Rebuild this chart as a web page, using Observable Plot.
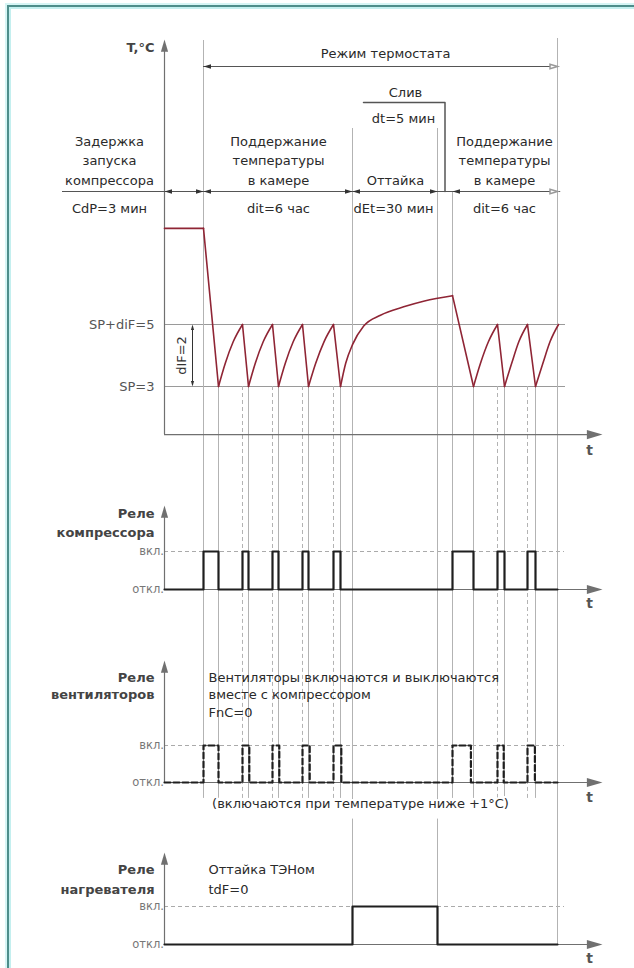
<!DOCTYPE html>
<html><head><meta charset="utf-8">
<script src="https://cdn.jsdelivr.net/npm/d3@7"></script>
<script src="https://cdn.jsdelivr.net/npm/@observablehq/plot@0.6"></script>
<style>
html,body{margin:0;padding:0;background:#fff;overflow:hidden}
#wrap{position:relative;width:634px;height:968px;overflow:hidden;background:#fff}
.panel{position:absolute;left:0}
#frame{position:absolute;left:7px;top:5px;width:700px;height:1000px;border-left:2px solid #4e8d8a;border-top:2px solid #4e8d8a;box-shadow:inset 2px 2px 0 #c4efef,-2px -2px 0 #d6f5f5;pointer-events:none;z-index:10}
</style></head>
<body><div id="wrap"><div id="frame"></div></div>
<script>
// ---------- data (schematic time units, origin at the axis) ----------
const tCdPEnd = 9.75;        // CdP = 3 мин
const tDefrostStart = 47;    // dit = 6 час
const tDefrostEnd = 68.25;   // dEt = 30 мин
const tDrainEnd = 72;        // dt = 5 мин
const tModeEnd = 98.25;
const tAxisEnd = 109.5;

const compressorOn  = [9.75, 19.5, 27, 34.5, 42.25, 72, 83.25, 90.75];
const compressorOff = [13.5, 21, 28.5, 36, 44, 77.25, 85, 92.75];
const fanOn  = [9.75, 19.5, 27, 34.5, 42.25, 72, 83.25, 90.75];
const fanOff = [13.5, 21.2, 28.7, 36.3, 44.2, 76.6, 84.8, 92.6];
const heaterOn  = [47];
const heaterOff = [68.25];

const SP = 3, SPdiF = 5, diF = 2;
const tempTime  = [0, 9.75, 13.5, 15.2, 17.2, 19.5, 21, 22.7, 24.7, 27, 28.5, 30.2, 32.2, 34.5, 36, 37.8, 39.9, 42.25, 44, 45.3, 47, 49.8, 54, 59.8, 65, 72, 77.25, 79, 81, 83.25, 85, 86.8, 88.6, 90.75, 92.75, 94.6, 96.4, 98.5];
const tempValue = [8.1, 8.1, 3, 3.75, 4.45, 5, 3, 3.75, 4.45, 5, 3, 3.75, 4.45, 5, 3, 3.75, 4.45, 5, 3, 3.75, 4.35, 4.95, 5.3, 5.57, 5.76, 5.93, 3, 3.75, 4.45, 5, 3, 3.75, 4.45, 5, 3, 3.75, 4.45, 5];

const phaseLabels = ["Задержка\nзапуска\nкомпрессора", "Поддержание\nтемпературы\nв камере", "Оттайка", "Поддержание\nтемпературы\nв камере"];
const phaseLabelT = [-13.75, 28.5, 57.75, 85];
const phaseParams = ["CdP=3 мин", "dit=6 час", "dEt=30 мин", "dit=6 час"];
const phaseParamT = [-13.75, 28.5, 57.25, 85];
const modeLabel = "Режим термостата", modeLabelT = 55.25;
const drainLabel = "Слив", drainLabelT = 60.25;
const drainParam = "dt=5 мин", drainParamT = 59.75, drainBracketT = 49.75;

// ---------- layout / style ----------
const W = 634;
const X = {domain: [0, tAxisEnd], range: [164, 602], axis: null};
const AX = "#707070", GUIDE = "#b3b3b3", INK = "#2a2a2a";
const FONT = "DejaVu Sans, sans-serif";
const txt = {fontFamily: FONT, fontSize: 13, fill: INK};
const tTxt = {fontFamily: FONT, fontSize: 14, fontWeight: "bold", fill: "#555"};
const arrowSym = {draw(ctx, size) { const r = Math.sqrt(size / Math.PI); ctx.moveTo(0, 0); ctx.lineTo(-r, 3.4 * r); ctx.lineTo(r, 3.4 * r); ctx.closePath(); }};

function steps(on, off, tEnd) {
  const ev = [{t: 0, s: 0}];
  on.forEach((t, i) => { ev.push({t, s: 1}); ev.push({t: off[i], s: 0}); });
  ev.push({t: tEnd, s: 0});
  return ev.sort((a, b) => a.t - b.t);
}
// split temperature series into monotone pieces (sharp corners at switch points)
function tempSegments() {
  const out = []; let seg = 0, prevSign = null;
  for (let i = 1; i < tempTime.length; i++) {
    const s = Math.sign(tempValue[i] - tempValue[i - 1]);
    if (prevSign !== null && s !== prevSign) seg++;
    if (prevSign === null || s !== prevSign) out.push({t: tempTime[i - 1], c: tempValue[i - 1], seg});
    out.push({t: tempTime[i], c: tempValue[i], seg});
    prevSign = s;
  }
  return out;
}
function place(el, top) { const d = document.createElement("div"); d.className = "panel"; d.style.top = top + "px"; d.appendChild(el); document.getElementById("wrap").appendChild(d); }
const base = (H) => ({width: W, height: H, margin: 0, style: {background: "transparent", overflow: "hidden"}});

// ---------- header ----------
const H0 = 215;
const row = {axisTop: 39, mode: 53, modeArrow: 66, drain: 92, bracket: 102, drainDt: 118, boundTop: 128, phaseBottom: 184, dim: 191, param: 208};
const dimArrows = [{t: 0, d: -1}, {t: tCdPEnd, d: 1}, {t: tCdPEnd, d: -1}, {t: tDefrostStart, d: 1}, {t: tDefrostStart, d: -1}, {t: tDefrostEnd, d: 1}, {t: tDrainEnd, d: -1}];
const drainMid = (tDefrostEnd + tDrainEnd) / 2;
place(Plot.plot({...base(H0), x: X, y: {domain: [0, H0], range: [0, H0], axis: null},
  marks: [
    Plot.ruleX([tCdPEnd], {y1: 40, y2: H0, stroke: GUIDE}),
    Plot.ruleX([tModeEnd], {y1: 38, y2: H0, stroke: GUIDE}),
    Plot.ruleX([tDefrostStart, tDefrostEnd], {y1: row.boundTop, y2: H0, stroke: GUIDE}),
    Plot.ruleX([tDrainEnd], {y1: row.dim, y2: H0, stroke: GUIDE}),
    Plot.ruleX([0], {y1: row.axisTop + 6, y2: H0, stroke: AX, strokeWidth: 1.2}),
    Plot.dot([0], {x: 0, y: row.axisTop, symbol: arrowSym, r: 3.6, fill: AX, stroke: "none"}),
    Plot.text(["T,°C"], {x: 0, y: 47, dx: -10, textAnchor: "end", ...txt, fontWeight: "bold", fill: "#444"}),
    // mode
    Plot.text([modeLabel], {x: modeLabelT, y: row.mode, ...txt}),
    Plot.ruleY([row.modeArrow], {x1: tCdPEnd, x2: tModeEnd, stroke: "#555"}),
    Plot.dot([tCdPEnd], {x: d => d, y: row.modeArrow, symbol: arrowSym, r: 2.2, rotate: -90, fill: "#333", stroke: "none"}),
    Plot.dot([tModeEnd], {x: d => d, y: row.modeArrow, symbol: arrowSym, r: 2.2, rotate: 90, fill: "white", stroke: "#999"}),
    // drain
    Plot.text([drainLabel], {x: drainLabelT, y: row.drain, ...txt}),
    Plot.line([[drainBracketT, row.bracket], [drainMid, row.bracket], [drainMid, row.dim]], {x: d => d[0], y: d => d[1], stroke: "#555"}),
    Plot.text([drainParam], {x: drainParamT, y: row.drainDt, ...txt}),
    // phases
    Plot.text(phaseLabels, {x: (d, i) => phaseLabelT[i], y: row.phaseBottom, text: d => d, lineAnchor: "bottom", lineHeight: 1.5, ...txt}),
    Plot.ruleY([row.dim], {x1: -25.5, x2: tModeEnd + 0.8, stroke: "#555"}),
    Plot.dot(dimArrows, {x: "t", y: row.dim, symbol: arrowSym, r: 2.2, rotate: d => d.d > 0 ? 90 : -90, fill: "#333", stroke: "none"}),
    Plot.dot([tModeEnd], {x: d => d, y: row.dim, symbol: arrowSym, r: 2.2, rotate: 90, fill: "white", stroke: "#999"}),
    Plot.text(phaseParams, {x: (d, i) => phaseParamT[i], y: row.param, text: d => d, ...txt})
  ]}), 0);

// ---------- temperature ----------
const H1 = 245;
const tAxisY = 1.45, tTop = 9, tLabel = 0.95;
const isBoundary = t => t === tCdPEnd || t === tDrainEnd;
place(Plot.plot({...base(H1), x: X, y: {domain: [SP, SPdiF], range: [171, 109], axis: null},
  marks: [
    Plot.ruleY([SP, SPdiF], {x1: 0, x2: 100.25, stroke: "#9a9a9a"}),
    Plot.ruleX([tCdPEnd, tDefrostStart, tDefrostEnd, tDrainEnd, tModeEnd], {stroke: GUIDE}),
    Plot.ruleX(compressorOn.filter(t => !isBoundary(t)), {y1: SP, y2: -1, stroke: GUIDE, strokeDasharray: "4,3"}),
    Plot.ruleX(compressorOff, {y1: SP, y2: -1, stroke: GUIDE}),
    Plot.ruleX([0], {y1: tAxisY, y2: tTop, stroke: AX, strokeWidth: 1.2}),
    Plot.ruleY([tAxisY], {x1: 0, x2: tAxisEnd - 2, stroke: AX, strokeWidth: 1.2}),
    Plot.dot([tAxisEnd], {x: d => d, y: tAxisY, symbol: arrowSym, r: 4.6, rotate: 90, fill: AX, stroke: "none"}),
    Plot.text(["t"], {x: 106.25, y: tLabel, ...tTxt}),
    Plot.text(["SP+diF=5", "SP=3"], {x: 0, y: [SPdiF, SP], text: d => d, dx: -10, textAnchor: "end", ...txt, fill: "#555"}),
    // dIF dimension
    Plot.ruleX([7], {y1: SP + 0.1, y2: SPdiF - 0.1, stroke: "#333"}),
    Plot.dot([{y: SPdiF, r: 0}, {y: SP, r: 180}], {x: 7, y: "y", rotate: "r", symbol: arrowSym, r: 1.6, fill: "#333", stroke: "none"}),
    Plot.text(["dIF=2"], {x: 4.25, y: SP + diF / 2, rotate: -90, ...txt, fill: "#333"}),
    Plot.line(tempSegments(), {x: "t", y: "c", z: "seg", curve: "monotone-x", stroke: "#8f2535", strokeWidth: 1.6})
  ]}), 215);

// ---------- relay panels ----------
function relayPanel(c) {
  const marks = [
    Plot.ruleY([1], {x1: 0, x2: 100, stroke: "#aaa", strokeDasharray: "4,3"}),
    ...c.guides,
    Plot.ruleX([0], {y1: 0, y2: c.arrowTop - 0.2, stroke: AX, strokeWidth: 1.2}),
    Plot.dot([0], {x: 0, y: c.arrowTop, symbol: arrowSym, r: 3.6, fill: AX, stroke: "none"}),
    Plot.ruleY([0], {x1: 0, x2: tAxisEnd - 2, stroke: AX, strokeWidth: 1.2}),
    Plot.dot([tAxisEnd], {x: d => d, y: 0, symbol: arrowSym, r: 4.6, rotate: 90, fill: AX, stroke: "none"}),
    Plot.text(["t"], {x: 106.25, y: c.tLabel, ...tTxt}),
    Plot.text([c.label], {x: 0, y: c.labelY, dx: -10, textAnchor: "end", lineHeight: c.lh, ...txt, fontWeight: "bold", fill: "#444"}),
    Plot.text(["вкл.", "откл."], {x: 0, y: [1, 0], dy: [c.onDy || 0, 0], text: d => d, dx: -10, textAnchor: "end", ...txt, fontSize: 11.5, fill: "#777"}),
    Plot.line(c.data, {x: "t", y: "s", curve: "step-after", stroke: "#1f1f1f", strokeWidth: 2.2, strokeDasharray: c.dash}),
    ...(c.extra || [])
  ];
  return Plot.plot({...base(c.H), x: X, y: {domain: [0, 1], range: [c.yOff, c.yOn], axis: null}, marks});
}

// compressor
place(relayPanel({H: 155, yOff: 129, yOn: 91, arrowTop: 2.21, tLabel: -0.38, label: "Реле\nкомпрессора", labelY: 1.78, lh: 1.45,
  data: steps(compressorOn, compressorOff, tModeEnd),
  guides: [
    Plot.ruleX([tCdPEnd, tDefrostStart, tDefrostEnd, tDrainEnd, tModeEnd, ...compressorOff], {stroke: GUIDE}),
    Plot.ruleX(compressorOn.filter(t => !isBoundary(t)), {stroke: GUIDE, strokeDasharray: "4,3"})
  ]}), 460);

// fans
place(relayPanel({H: 195, yOff: 167, yOn: 130, arrowTop: 3.3, tLabel: -0.4, label: "Реле\nвентиляторов", labelY: 2.64, lh: 1.3,
  data: steps(fanOn, fanOff, tModeEnd), dash: "6,3",
  guides: [
    Plot.ruleX([tDefrostStart, tDefrostEnd, tModeEnd], {stroke: GUIDE}),
    Plot.ruleX([tCdPEnd, tDrainEnd, ...compressorOff], {y1: -0.43, y2: 6, stroke: GUIDE}),
    Plot.ruleX(compressorOn.filter(t => !isBoundary(t)), {y1: -0.43, y2: 6, stroke: GUIDE, strokeDasharray: "4,3"})
  ],
  extra: [
    Plot.text(["Вентиляторы включаются и выключаются\nвместе с компрессором\nFnC=0"], {x: 11, y: 2.4, textAnchor: "start", lineHeight: 1.35, ...txt}),
    Plot.text(["(включаются при температуре ниже +1°C)"], {x: 49, y: -0.57, ...txt, stroke: "white", strokeWidth: 4, paintOrder: "stroke"})
  ]}), 615);

// heater
place(relayPanel({H: 158, yOff: 134, yOn: 96, arrowTop: 2.42, tLabel: -0.36, label: "Реле\nнагревателя", labelY: 1.76, lh: 1.5, onDy: 5,
  data: steps(heaterOn, heaterOff, tModeEnd),
  guides: [
    Plot.ruleX([tDefrostStart, tDefrostEnd], {y1: 1, y2: 3.3, stroke: GUIDE}),
    Plot.ruleX([tModeEnd], {y1: 0, y2: 5, stroke: GUIDE})
  ],
  extra: [
    Plot.text(["Оттайка ТЭНом\ntdF=0"], {x: 11, y: 1.76, textAnchor: "start", lineHeight: 1.5, ...txt})
  ]}), 810);
</script>
</body></html>
